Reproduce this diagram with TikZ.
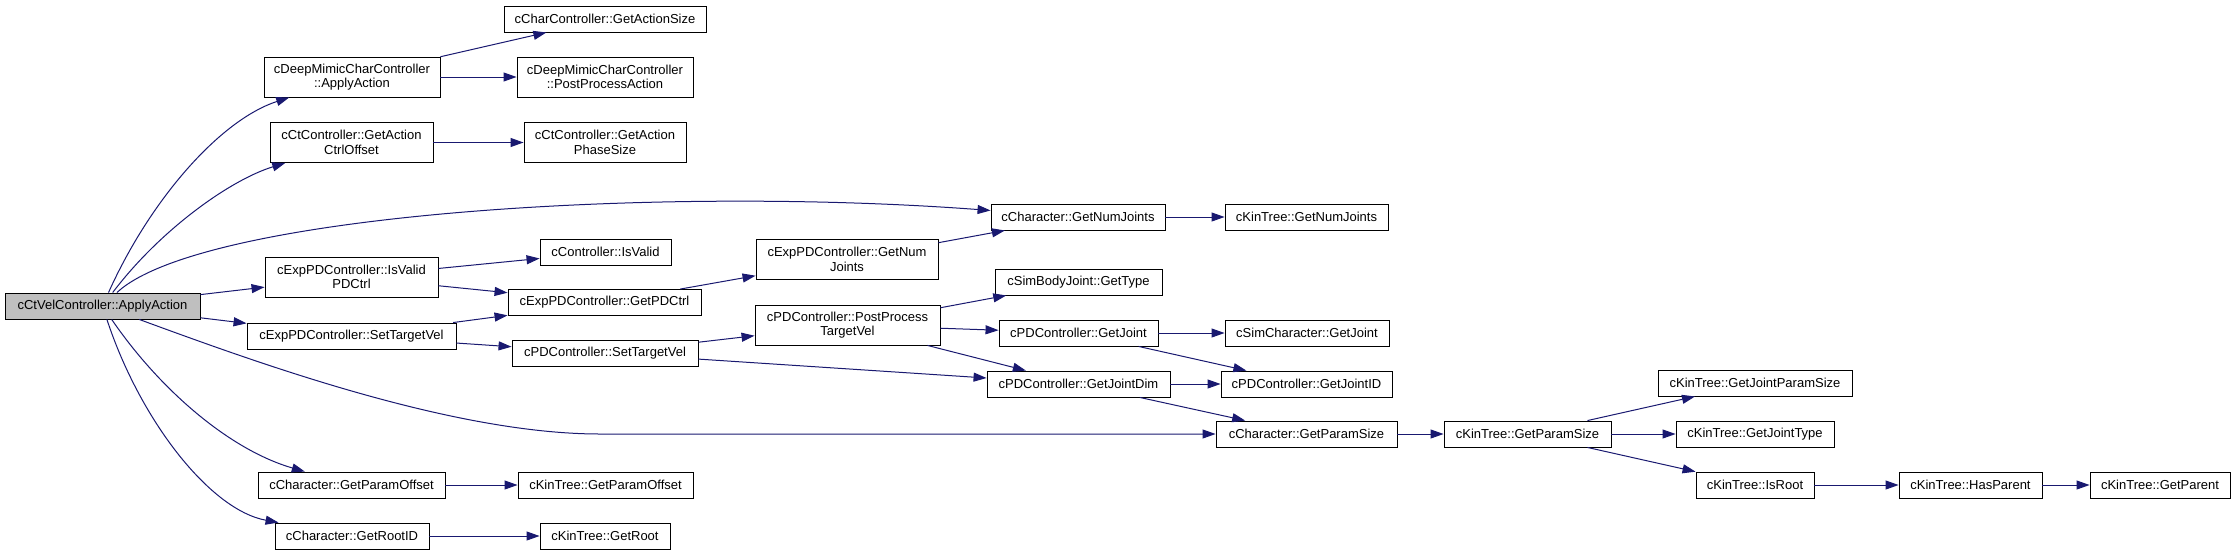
\documentclass[tikz,border=0pt]{standalone}
\usepackage{fontspec}
\setmainfont{Liberation Sans}
\usetikzlibrary{arrows.meta}

\definecolor{edgeblue}{HTML}{191970}
\definecolor{rootgray}{HTML}{BFBFBF}

\begin{document}
\begin{tikzpicture}[x=1pt, y=-1pt,
    fn/.style={draw=black, line width=0.9pt, inner sep=0pt, minimum height=26pt,
        font=\fontsize{13}{14.5}\selectfont, align=center},
    fntwo/.style={fn, minimum height=40pt},
    call/.style={draw=edgeblue, line width=1pt, -{Triangle[length=13pt, width=9pt]}}]
    \useasboundingbox (0,0) rectangle (2236,555);

    % Draw caller
    \node[fn, fill=rootgray, minimum width=195pt] (root) at (102.5,306) {cCtVelController::ApplyAction};

    % Draw first column of callees
    \node[fntwo, minimum width=176pt] (dmApply) at (352,77) {cDeepMimicCharController\\::ApplyAction};
    \node[fntwo, minimum width=163pt] (ctCtrlOff) at (351.5,142.5) {cCtController::GetAction\\CtrlOffset};
    \node[fntwo, minimum width=173pt] (isValidPD) at (351.5,277) {cExpPDController::IsValid\\PDCtrl};
    \node[fn, minimum width=209pt] (expSetTV) at (351.5,336) {cExpPDController::SetTargetVel};
    \node[fn, minimum width=187pt] (getParamOff) at (351.5,485) {cCharacter::GetParamOffset};
    \node[fn, minimum width=154pt] (getRootID) at (352,536) {cCharacter::GetRootID};

    % Draw second column
    \node[fn, minimum width=202pt] (charActSize) at (605,19) {cCharController::GetActionSize};
    \node[fntwo, minimum width=176pt] (dmPost) at (605,77) {cDeepMimicCharController\\::PostProcessAction};
    \node[fntwo, minimum width=162pt] (ctPhase) at (605,142.5) {cCtController::GetAction\\PhaseSize};
    \node[fn, minimum width=131pt] (ctrlIsValid) at (605.5,252) {cController::IsValid};
    \node[fn, minimum width=193pt] (getPDCtrl) at (604.5,302.5) {cExpPDController::GetPDCtrl};
    \node[fn, minimum width=186pt] (pdSetTV) at (605,353) {cPDController::SetTargetVel};
    \node[fn, minimum width=175pt] (ktParamOff) at (605.5,485) {cKinTree::GetParamOffset};
    \node[fn, minimum width=130pt] (ktGetRoot) at (605,536) {cKinTree::GetRoot};

    % Draw third and fourth columns
    \node[fntwo, minimum width=182pt] (expNumJ) at (847,259.5) {cExpPDController::GetNum\\Joints};
    \node[fntwo, minimum width=185pt] (pdPostTV) at (847.5,325) {cPDController::PostProcess\\TargetVel};
    \node[fn, minimum width=174pt] (charNumJ) at (1078,217) {cCharacter::GetNumJoints};
    \node[fn, minimum width=167pt] (sbjType) at (1078.5,282) {cSimBodyJoint::GetType};
    \node[fn, minimum width=159pt] (pdGetJoint) at (1078.5,333) {cPDController::GetJoint};
    \node[fn, minimum width=183pt] (pdJointDim) at (1078.5,384) {cPDController::GetJointDim};

    % Draw fifth column
    \node[fn, minimum width=163pt] (ktNumJ) at (1306.5,217) {cKinTree::GetNumJoints};
    \node[fn, minimum width=164pt] (simGetJoint) at (1307,333) {cSimCharacter::GetJoint};
    \node[fn, minimum width=171pt] (pdJointID) at (1306.5,384) {cPDController::GetJointID};
    \node[fn, minimum width=181pt] (charParamSize) at (1306.5,434) {cCharacter::GetParamSize};

    % Draw kinematic tree helpers
    \node[fn, minimum width=167pt] (ktParamSize) at (1527.5,434) {cKinTree::GetParamSize};
    \node[fn, minimum width=194pt] (ktJPS) at (1755,383) {cKinTree::GetJointParamSize};
    \node[fn, minimum width=158pt] (ktJType) at (1755,434) {cKinTree::GetJointType};
    \node[fn, minimum width=118pt] (ktIsRoot) at (1755,485) {cKinTree::IsRoot};
    \node[fn, minimum width=143pt] (ktHasParent) at (1970.5,485) {cKinTree::HasParent};
    \node[fn, minimum width=140pt] (ktGetParent) at (2160,485) {cKinTree::GetParent};

    % Draw calls from the caller
    \draw[call] (root) .. controls (150,200) and (220,120) .. (dmApply);
    \draw[call] (root) .. controls (160,230) and (230,180) .. (ctCtrlOff);
    \draw[call] (root) .. controls (200,215) and (650,185) .. (charNumJ);
    \draw[call] (root) -- (isValidPD);
    \draw[call] (root) -- (expSetTV);
    \draw[call] (root) .. controls (250,360) and (450,434) .. (600,434) -- (charParamSize);
    \draw[call] (root) .. controls (160,390) and (230,450) .. (getParamOff);
    \draw[call] (root) .. controls (140,420) and (210,510) .. (getRootID);

    % Draw remaining calls
    \draw[call] (dmApply) -- (charActSize);
    \draw[call] (dmApply) -- (dmPost);
    \draw[call] (ctCtrlOff) -- (ctPhase);
    \draw[call] (isValidPD) -- (ctrlIsValid);
    \draw[call] (isValidPD) -- (getPDCtrl);
    \draw[call] (expSetTV) -- (getPDCtrl);
    \draw[call] (expSetTV) -- (pdSetTV);
    \draw[call] (getPDCtrl) -- (expNumJ);
    \draw[call] (expNumJ) -- (charNumJ);
    \draw[call] (charNumJ) -- (ktNumJ);
    \draw[call] (pdSetTV) -- (pdPostTV);
    \draw[call] (pdSetTV) -- (pdJointDim);
    \draw[call] (pdPostTV) -- (sbjType);
    \draw[call] (pdPostTV) -- (pdGetJoint);
    \draw[call] (pdPostTV) -- (pdJointDim);
    \draw[call] (pdGetJoint) -- (simGetJoint);
    \draw[call] (pdGetJoint) -- (pdJointID);
    \draw[call] (pdJointDim) -- (pdJointID);
    \draw[call] (pdJointDim) -- (charParamSize);
    \draw[call] (charParamSize) -- (ktParamSize);
    \draw[call] (ktParamSize) -- (ktJPS);
    \draw[call] (ktParamSize) -- (ktJType);
    \draw[call] (ktParamSize) -- (ktIsRoot);
    \draw[call] (ktIsRoot) -- (ktHasParent);
    \draw[call] (ktHasParent) -- (ktGetParent);
    \draw[call] (getParamOff) -- (ktParamOff);
    \draw[call] (getRootID) -- (ktGetRoot);
\end{tikzpicture}
\end{document}
